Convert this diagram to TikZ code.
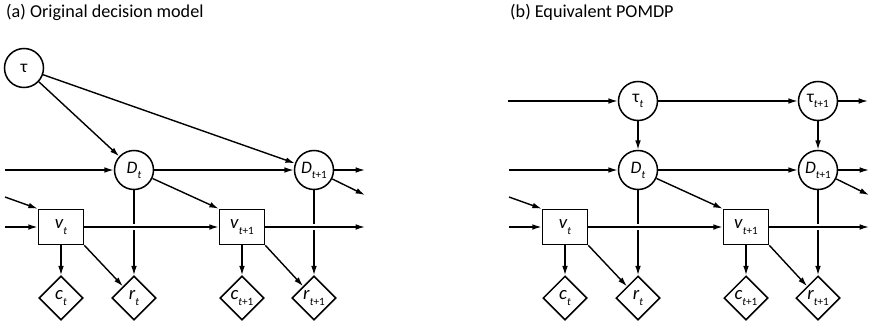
\documentclass[tikz,border=0pt]{standalone}
\usepackage{fontspec}
\setmainfont{Carlito}
\usetikzlibrary{positioning,arrows.meta,shapes.geometric,backgrounds}
\tikzset{
  var/.style={circle,draw,line width=1.3pt,minimum size=1.17cm,inner sep=0pt,
    font=\fontsize{15}{17}\selectfont},
  val/.style={rectangle,draw,line width=1.4pt,minimum width=1.35cm,
    minimum height=1.05cm,inner sep=0pt,font=\fontsize{16}{18}\selectfont},
  util/.style={diamond,draw,line width=1.3pt,minimum size=1.32cm,inner sep=0pt,
    font=\fontsize{16}{18}\selectfont},
  title/.style={anchor=base west,inner sep=0pt,font=\fontsize{15.5}{18}\selectfont},
  link/.style={->,line width=1.2pt},
  gap/.style={draw=white,line width=5pt,shorten <=4pt,shorten >=8pt},
  >={Latex[length=2.8mm,width=1.7mm]}
}
\newcommand{\varlab}[2]{#1\raisebox{-0.6ex}{\fontsize{9.5}{10}\selectfont #2}}

\begin{document}
\begin{tikzpicture}[x=0.03cm,y=-0.03cm]
\useasboundingbox (0,0) rectangle (871,327);
\node[title] (ta) at (6,17) {(a) Original decision model};
\node[title] (tb) at (510,17) {(b) Equivalent POMDP};

% the D / v / c / r chain, same in both panels
\foreach \p/\s in {a/0,b/504} {
\begin{scope}[xshift=\s*0.03cm]
  \node[var] (\p-D1) at (134,170) {\varlab{\textit{D}}{\textit{t}}};
  \node[var] (\p-D2) at (314,170) {\varlab{\textit{D}}{\textit{t}+1}};
  \node[val] (\p-v1) at (61,227) {\varlab{\textit{v}}{\textit{t}}};
  \node[val] (\p-v2) at (242,227) {\varlab{\textit{v}}{\textit{t}+1}};
  \node[util] (\p-c1) at (61,298) {\varlab{\textit{c}}{\textit{t}}};
  \node[util] (\p-r1) at (134,298) {\varlab{\textit{r}}{\textit{t}}};
  \node[util] (\p-c2) at (242,298) {\varlab{\textit{c}}{\textit{t}+1}};
  \node[util] (\p-r2) at (314,298) {\varlab{\textit{r}}{\textit{t}+1}};
  \coordinate (\p-inD) at (5,170);
  \coordinate (\p-outD) at (365,170);
  \coordinate (\p-outDd) at (365,195);
  \coordinate (\p-inVd) at (5,197);
  \coordinate (\p-inV) at (5,227);
  \coordinate (\p-outV) at (365,227);
\end{scope}
  \begin{scope}[on background layer]
    \draw[link] (\p-D1) -- (\p-r1);
    \draw[link] (\p-D2) -- (\p-r2);
  \end{scope}
  \draw[link] (\p-inD) -- (\p-D1);
  \draw[link] (\p-D1) -- (\p-D2);
  \draw[link] (\p-D2) -- (\p-outD);
  \draw[link] (\p-D2) -- (\p-outDd);
  \draw[link] (\p-D1) -- (\p-v2.north west);
  \draw[link] (\p-inVd) -- (\p-v1.north west);
  \draw[link] (\p-inV) -- (\p-v1);
  \draw[gap] (\p-v1) -- (\p-v2);
  \draw[gap] (\p-v2) -- (\p-outV);
  \draw[link] (\p-v1) -- (\p-v2);
  \draw[link] (\p-v2) -- (\p-outV);
  \draw[link] (\p-v1) -- (\p-c1);
  \draw[link] (\p-v1.south east) -- (\p-r1);
  \draw[link] (\p-v2) -- (\p-c2);
  \draw[link] (\p-v2.south east) -- (\p-r2);
}

% (a) one fixed tau
\node[var] (a-tau) at (24,68) {τ};
\draw[link] (a-tau) -- (a-D1);
\draw[link] (a-tau) -- (a-D2);

% (b) tau as a state
\node[var] (b-tau1) at (638,101) {\varlab{τ}{\textit{t}}};
\node[var] (b-tau2) at (818,101) {\varlab{τ}{\textit{t}+1}};
\coordinate (b-inT) at (508,101);
\coordinate (b-outT) at (868,101);
\draw[link] (b-inT) -- (b-tau1);
\draw[link] (b-tau1) -- (b-tau2);
\draw[link] (b-tau2) -- (b-outT);
\draw[link] (b-tau1) -- (b-D1);
\draw[link] (b-tau2) -- (b-D2);
\end{tikzpicture}
\end{document}
